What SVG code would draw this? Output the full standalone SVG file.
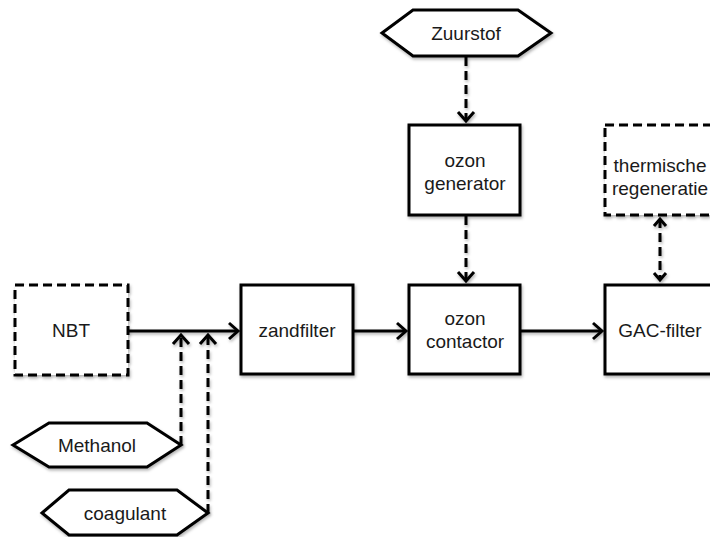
<svg xmlns="http://www.w3.org/2000/svg" width="710" height="537" viewBox="0 0 710 537">
  <style>
    .box { fill: #ffffff; stroke: #000000; stroke-width: 3; }
    .dashed { stroke-dasharray: 9 5; }
    .label { font-family: "Liberation Sans", Arial, sans-serif; font-size: 19px; fill: #1a1a1a; text-anchor: middle; }
    .flow { fill: none; stroke: #000000; stroke-width: 3; }
    .shadow { filter: url(#soft); }
  </style>
  <defs>
    <filter id="soft" x="-10%" y="-10%" width="130%" height="140%">
      <feDropShadow dx="1" dy="2" stdDeviation="1.5" flood-color="#000000" flood-opacity="0.3"/>
    </filter>
    <marker id="chev" markerUnits="userSpaceOnUse" markerWidth="20" markerHeight="20" viewBox="-12 -10 14 20" refX="0" refY="0" orient="auto">
      <path d="M-9,-8 L0,0 L-9,8" fill="none" stroke="#000000" stroke-width="3" stroke-linejoin="miter"/>
    </marker>
    <marker id="chevSmall" markerUnits="userSpaceOnUse" markerWidth="16" markerHeight="16" viewBox="-10 -8 12 16" refX="0" refY="0" orient="auto-start-reverse">
      <path d="M-7,-6 L0,0 L-7,6" fill="none" stroke="#000000" stroke-width="3" stroke-linejoin="miter"/>
    </marker>
  </defs>

  <!-- connectors -->
  <g id="connectors" class="shadow">
    <path class="flow" d="M128,331 H238" marker-end="url(#chev)"/>
    <path class="flow" d="M353,331 H406" marker-end="url(#chev)"/>
    <path class="flow" d="M520,331 H602" marker-end="url(#chev)"/>
    <path class="flow dashed" d="M466,57 V121" marker-end="url(#chev)"/>
    <path class="flow dashed" d="M466,216 V281" marker-end="url(#chev)"/>
    <path class="flow dashed" d="M660,219 V280" marker-start="url(#chevSmall)" marker-end="url(#chevSmall)"/>
    <path class="flow dashed" d="M181,445 V335" marker-end="url(#chev)"/>
    <path class="flow dashed" d="M208,513 V335" marker-end="url(#chev)"/>
  </g>

  <!-- process blocks -->
  <g id="nbt">
    <rect class="box dashed shadow" x="15" y="285" width="113" height="90"/>
    <text class="label" x="71" y="337">NBT</text>
  </g>
  <g id="zandfilter">
    <rect class="box shadow" x="241" y="285" width="112" height="89"/>
    <text class="label" x="297" y="337">zandfilter</text>
  </g>
  <g id="ozon-contactor">
    <rect class="box shadow" x="409" y="285" width="111" height="89"/>
    <text class="label" x="465" y="325">ozon</text>
    <text class="label" x="465" y="348">contactor</text>
  </g>
  <g id="gac-filter">
    <rect class="box shadow" x="605" y="285" width="112" height="89"/>
    <text class="label" x="660" y="337">GAC-filter</text>
  </g>
  <g id="ozon-generator">
    <rect class="box shadow" x="409" y="125" width="111" height="90"/>
    <text class="label" x="465" y="167">ozon</text>
    <text class="label" x="465" y="190">generator</text>
  </g>
  <g id="thermische-regeneratie">
    <rect class="box dashed shadow" x="605" y="125" width="112" height="90"/>
    <text class="label" x="660" y="172">thermische</text>
    <text class="label" x="660" y="195">regeneratie</text>
  </g>

  <!-- dosing inputs -->
  <g id="zuurstof">
    <polygon class="box shadow" points="382,33 413,10 518,10 551,33 518,56 413,56"/>
    <text class="label" x="466" y="40">Zuurstof</text>
  </g>
  <g id="methanol">
    <polygon class="box shadow" points="13,445 49,423 147,423 181,445 147,467 49,467"/>
    <text class="label" x="97" y="452">Methanol</text>
  </g>
  <g id="coagulant">
    <polygon class="box shadow" points="42,513 69,490 177,490 208,513 177,535 69,535"/>
    <text class="label" x="125" y="520">coagulant</text>
  </g>
</svg>
